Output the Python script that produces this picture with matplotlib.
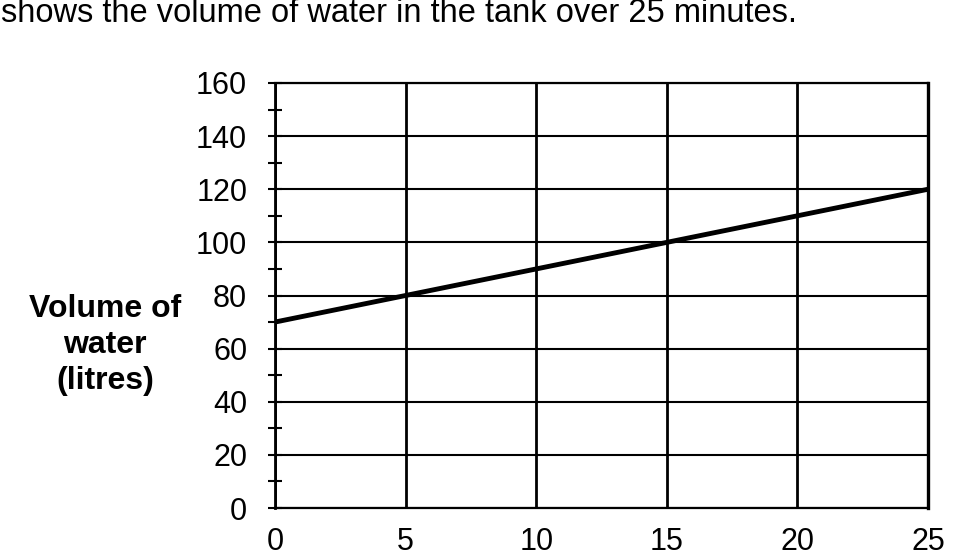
import matplotlib
matplotlib.use("Agg")
import matplotlib.pyplot as plt
from matplotlib.ticker import MultipleLocator

plt.rcParams['font.family'] = ['Liberation Sans', 'DejaVu Sans']

# data
minutes = [0, 5, 10, 15, 20, 25]
volume = [70, 80, 90, 100, 110, 120]
x_ticks = [0, 5, 10, 15, 20, 25]
y_ticks = [0, 20, 40, 60, 80, 100, 120, 140, 160]
title_text = "shows the volume of water in the tank over 25 minutes."
ylabel_text = "Volume of\nwater\n(litres)"

fig = plt.figure(figsize=(9.65, 5.56), dpi=100)
ax = fig.add_axes([275/965, 1-508/556, (928-275)/965, (508-83)/556])

ax.plot(minutes, volume, color='black', lw=3.5, solid_capstyle='butt', zorder=3)

ax.set_xlim(0, 25)
ax.set_ylim(0, 160)
ax.set_xticks(x_ticks)
ax.set_yticks(y_ticks)
ax.yaxis.set_minor_locator(MultipleLocator(10))

ax.grid(axis='y', which='major', color='black', lw=1.5)
ax.grid(axis='x', which='major', color='black', lw=2)

for s in ax.spines.values():
    s.set_color('black')
    s.set_linewidth(1.6)
ax.spines['right'].set_linewidth(2.4)
ax.spines['left'].set_linewidth(2)

ax.tick_params(axis='y', which='major', direction='inout', length=10, width=1.5,
               pad=15, labelsize=22)
ax.tick_params(axis='y', which='minor', direction='inout', length=10, width=1.5)
ax.tick_params(axis='x', which='major', length=0, pad=14, labelsize=22)

fig.text(1/965, 1-14/556, title_text, fontsize=23.5, ha='left', va='center')
fig.text(105/965, 1-345/556, ylabel_text, fontsize=23, fontweight='bold',
         ha='center', va='center', linespacing=1.25)

fig.savefig('out.png', dpi=100)
